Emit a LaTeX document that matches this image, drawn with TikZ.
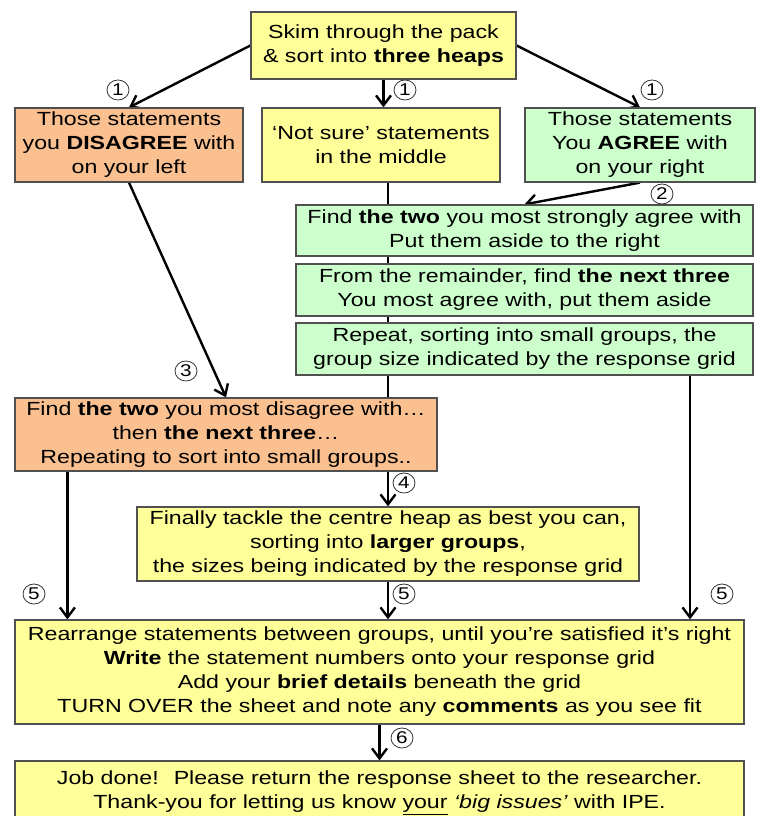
\documentclass[tikz,border=0pt]{standalone}
\usepackage{fontspec}
\setmainfont[FakeStretch=1.22]{Liberation Sans}
\usetikzlibrary{arrows.meta,backgrounds,shapes.geometric}
\definecolor{Peach}{HTML}{FAC090}
\definecolor{Mint}{HTML}{CCFFCC}
\definecolor{Lemon}{HTML}{FFFF99}
\definecolor{Edge}{HTML}{505050}

\begin{document}
\begin{tikzpicture}[x=1pt,y=-1pt,
    card/.style={draw=Edge,line width=1.2pt,align=center,inner sep=0pt,font=\fontsize{19}{24}\selectfont},
    hot/.style={card,fill=Peach},
    cool/.style={card,fill=Mint},
    mild/.style={card,fill=Lemon},
    num/.style={ellipse,draw=black!80,line width=0.8pt,inner sep=0pt,minimum width=22pt,minimum height=20pt,font=\fontsize{17}{17}\selectfont},
    arr/.style={-{Straight Barb[length=10pt,width=15pt]},line width=2.4pt}
  ]
    \useasboundingbox (0,0) rectangle (760,816);
    \clip (0,0) rectangle (760,816);
    % three heaps
    \node[mild,minimum width=265,minimum height=67] (skim) at (383.5,45.5) {Skim through the pack\\\& sort into \textbf{three heaps}};
    \node[hot,minimum width=228,minimum height=74] (disagree) at (129,145) {Those statements\\you \textbf{DISAGREE} with\\on your left};
    \node[mild,minimum width=238,minimum height=74] (unsure) at (381,145) {‘Not sure’ statements\\in the middle};
    \node[cool,minimum width=230,minimum height=74] (agree) at (640,145) {Those statements\\You \textbf{AGREE} with\\on your right};
    % right hand heap
    \node[cool,minimum width=457,minimum height=51] (two) at (524.5,230.5) {Find \textbf{the two} you most strongly agree with\\Put them aside to the right};
    \node[cool,minimum width=457,minimum height=52] (three) at (524.5,290) {From the remainder, find \textbf{the next three}\\You most agree with, put them aside};
    \node[cool,minimum width=457,minimum height=52] (groups) at (524.5,349) {Repeat, sorting into small groups, the\\group size indicated by the response grid};
    % left hand heap
    \node[hot,minimum width=422,minimum height=73] (worst) at (226,434.5) {Find \textbf{the two} you most disagree with\ldots\\then \textbf{the next three}\ldots\\Repeating to sort into small groups..};
    \node[mild,minimum width=502,minimum height=74] (centre) at (388,544) {Finally tackle the centre heap as best you can,\\sorting into \textbf{larger groups},\\the sizes being indicated by the response grid};
    \node[mild,minimum width=729,minimum height=104] (rearrange) at (379.5,672) {Rearrange statements between groups, until you’re satisfied it’s right\\\textbf{Write} the statement numbers onto your response grid\\Add your \textbf{brief details} beneath the grid\\TURN OVER the sheet and note any \textbf{comments} as you see fit};
    \node[mild,minimum width=729,minimum height=80] (done) at (379.5,801) {Job done!~ Please return the response sheet to the researcher.\\Thank-you for letting us know \underline{your} \textit{‘big issues’} with IPE.\\[-2pt]};
    % connectors go underneath the cards
    \begin{scope}[on background layer]
      \draw[arr] (skim.west) -- (disagree.north);
      \draw[arr] (skim.south) -- (skim.south |- unsure.north);
      \draw[arr] (skim.east) -- (agree.north);
      \draw[arr] (agree.south) -- (two.north);
      \draw[arr] (disagree.south) -- (worst.north);
      \draw[arr] (unsure.south -| centre.north) -- (centre.north);
      \draw[arr] ([xshift=53pt]worst.south west) -- ([xshift=53pt]worst.south west |- rearrange.north);
      \draw[arr] (centre.south) -- (centre.south |- rearrange.north);
      \draw[arr] ([xshift=165.5pt]groups.south) -- ([xshift=165.5pt]groups.south |- rearrange.north);
      \draw[arr] (rearrange.south) -- (done.north);
    \end{scope}
    % step numbers
    \node[num] (s1a) at (118,90) {1};
    \node[num] (s1b) at (405,90) {1};
    \node[num] (s1c) at (652,90) {1};
    \node[num] (s2) at (662,194) {2};
    \node[num] (s3) at (186,371) {3};
    \node[num] (s4) at (404,483) {4};
    \node[num] (s5a) at (34,594) {5};
    \node[num] (s5b) at (404,594) {5};
    \node[num] (s5c) at (722,594) {5};
    \node[num] (s6) at (402,738) {6};
\end{tikzpicture}
\end{document}
